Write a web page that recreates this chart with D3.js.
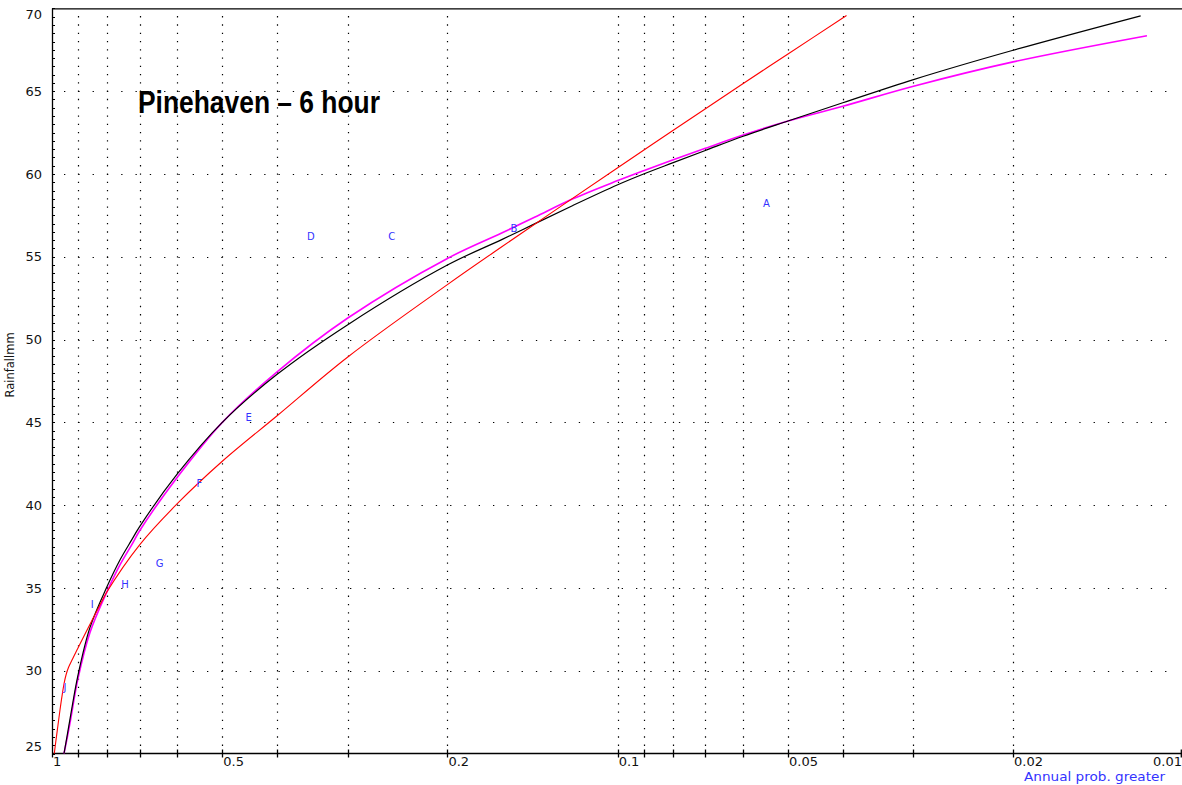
<!DOCTYPE html>
<html>
<head>
<meta charset="utf-8">
<script src="https://cdn.jsdelivr.net/npm/d3@7"></script>
<style>
  html, body { margin: 0; padding: 0; background: #fff; }
  svg { display: block; }
</style>
</head>
<body>
<script>
// ---------- data ----------
const titleText = "Pinehaven \u2013 6 hour";
const yLabel = "Rainfallmm";
const xLabel = "Annual prob. greater";

const xTickProbs = [1, 0.9, 0.8, 0.7, 0.6, 0.5, 0.4, 0.3, 0.2, 0.1, 0.09, 0.08, 0.07, 0.06, 0.05, 0.04, 0.03, 0.02, 0.01];
const xTickLabels = [[1, "1"], [0.5, "0.5"], [0.2, "0.2"], [0.1, "0.1"], [0.05, "0.05"], [0.02, "0.02"], [0.01, "0.01"]];
const yTicks = [25, 30, 35, 40, 45, 50, 55, 60, 65, 70];

// observed annual maxima (plotting letters)
const pointLabels = ["A", "B", "C", "D", "E", "F", "G", "H", "I", "J"];
const pointProbs  = [0.0546, 0.1526, 0.2509, 0.3488, 0.449, 0.5491, 0.6452, 0.7427, 0.8487, 0.9485];
const pointValues = [58.2, 56.7, 56.2, 56.2, 45.3, 41.3, 36.5, 35.2, 34.0, 29.0];

// fitted curves
const blackProbs  = [0.9523, 0.94, 0.927, 0.9, 0.857, 0.8, 0.758, 0.723, 0.7, 0.6, 0.5, 0.4, 0.3, 0.2, 0.16, 0.14, 0.12, 0.1, 0.09, 0.08, 0.07, 0.06, 0.05, 0.04, 0.03, 0.02, 0.0119];
const blackValues = [25.0, 26.1, 27.3, 29.7, 32.6, 35.05, 36.7, 37.9, 38.7, 41.9, 45.0, 47.9, 50.9, 54.5, 56.05, 57.0, 58.1, 59.35, 60.0, 60.67, 61.42, 62.28, 63.2, 64.3, 65.7, 67.47, 69.55];

const magentaProbs  = [0.9523, 0.94, 0.927, 0.9, 0.857, 0.8, 0.758, 0.723, 0.7, 0.6, 0.5, 0.4, 0.3, 0.2, 0.16, 0.14, 0.12, 0.1, 0.09, 0.08, 0.07, 0.06, 0.05, 0.04, 0.03, 0.02, 0.0116];
const magentaValues = [25.0, 25.95, 27.05, 29.5, 32.3, 34.75, 36.4, 37.6, 38.45, 41.7, 45.0, 48.05, 51.3, 54.9, 56.45, 57.4, 58.5, 59.6, 60.2, 60.85, 61.55, 62.35, 63.2, 64.09, 65.3, 66.77, 68.35];

const redProbs  = [0.9907, 0.9839, 0.9759, 0.968, 0.9601, 0.9523, 0.9446, 0.9351, 0.9218, 0.9014, 0.8778, 0.8167, 0.8, 0.7, 0.6, 0.5, 0.4, 0.3, 0.2, 0.161, 0.1, 0.08, 0.06, 0.05, 0.0394];
const redValues = [25.0, 25.81, 26.72, 27.63, 28.47, 29.2, 29.74, 30.19, 30.64, 31.31, 32.1, 34.18, 34.75, 37.6, 40.1, 42.65, 45.4, 48.95, 53.32, 55.56, 60.38, 62.61, 65.46, 67.25, 69.57];

// ---------- drawing ----------
const W = 1182, H = 785;
const svg = d3.select("body").append("svg").attr("width", W).attr("height", H);

const x = d3.scaleLog().domain([1, 0.01]).range([52, 1183.4]);
const y = d3.scaleLinear().domain([25, 70]).range([753.5, 8.4]);

const x0 = x(1), x1 = W, yTop = y(70), yBot = y(25);

// vertical dotted grid
const step = y(69.5) - y(70);
svg.append("g").selectAll("line").data(xTickProbs.filter(p => p !== 1 && p !== 0.01)).join("line")
  .attr("x1", d => Math.round(x(d)) + 0.5).attr("x2", d => Math.round(x(d)) + 0.5)
  .attr("y1", yTop + step - 0.6).attr("y2", yBot - 2)
  .attr("stroke", "#000").attr("stroke-width", 1.2)
  .attr("stroke-dasharray", `1.3 ${step - 1.3}`);

// horizontal dotted grid
svg.append("g").selectAll("line").data(yTicks.filter(v => v !== 25 && v !== 70)).join("line")
  .attr("x1", x0 + 12).attr("x2", x1 - 10)
  .attr("y1", d => Math.round(y(d)) + 0.5).attr("y2", d => Math.round(y(d)) + 0.5)
  .attr("stroke", "#000").attr("stroke-width", 1.2)
  .attr("stroke-dasharray", "1.3 13");

// frame: top border, left axis, bottom axis
svg.append("line").attr("x1", x0).attr("x2", x1).attr("y1", yTop + 0.5).attr("y2", yTop + 0.5)
  .attr("stroke", "#000").attr("stroke-width", 1.3);
svg.append("line").attr("x1", x0 + 0.5).attr("x2", x0 + 0.5).attr("y1", yTop).attr("y2", yBot + 4)
  .attr("stroke", "#000").attr("stroke-width", 1.3);
svg.append("line").attr("x1", x0).attr("x2", x1).attr("y1", yBot).attr("y2", yBot)
  .attr("stroke", "#000").attr("stroke-width", 1.3);

// x ticks
svg.append("g").selectAll("line").data(xTickProbs.filter(p => p !== 1)).join("line")
  .attr("x1", d => Math.min(Math.round(x(d)) + 0.5, W - 0.7)).attr("x2", d => Math.min(Math.round(x(d)) + 0.5, W - 0.7))
  .attr("y1", yBot - 4).attr("y2", yBot + 4)
  .attr("stroke", "#000").attr("stroke-width", 1.3);

// x tick labels
svg.append("g").selectAll("text").data(xTickLabels).join("text")
  .attr("x", d => d[0] === 0.01 ? W : x(d[0]) + 1)
  .attr("y", 766)
  .attr("text-anchor", d => d[0] === 0.01 ? "end" : "start")
  .attr("font-family", "DejaVu Sans, Verdana, sans-serif").attr("font-size", 13)
  .attr("fill", "#111")
  .text(d => d[1]);

// y minor ticks every 0.5
const yMinor = d3.range(25, 70.01, 0.5);
svg.append("g").selectAll("line").data(yMinor).join("line")
  .attr("x1", x0).attr("x2", x0 + 3)
  .attr("y1", d => Math.round(y(d)) + 0.5).attr("y2", d => Math.round(y(d)) + 0.5)
  .attr("stroke", "#000").attr("stroke-width", 1);

// y tick labels
svg.append("g").selectAll("text").data(yTicks).join("text")
  .attr("x", 42)
  .attr("y", d => Math.min(Math.max(y(d), 14), 746))
  .attr("dy", "0.36em")
  .attr("text-anchor", "end")
  .attr("font-family", "DejaVu Sans, Verdana, sans-serif").attr("font-size", 13)
  .attr("fill", "#111")
  .text(d => d);

// y axis title
svg.append("text")
  .attr("transform", `translate(14,365) rotate(-90)`)
  .attr("text-anchor", "middle")
  .attr("font-family", "DejaVu Sans, Verdana, sans-serif").attr("font-size", 11.5)
  .attr("fill", "#111")
  .text(yLabel);

// x axis title
svg.append("text")
  .attr("x", 1024).attr("y", 781)
  .attr("font-family", "DejaVu Sans, Verdana, sans-serif").attr("font-size", 13)
  .attr("textLength", 141).attr("lengthAdjust", "spacingAndGlyphs")
  .attr("fill", "#3333ff")
  .text(xLabel);

// curves
const line = d3.line().x(d => x(d[0])).y(d => y(d[1])).curve(d3.curveCatmullRom.alpha(0.5));
const curves = [
  { probs: magentaProbs, values: magentaValues, color: "#ff00ff", width: 1.6 },
  { probs: blackProbs, values: blackValues, color: "#000000", width: 1.2 },
  { probs: redProbs, values: redValues, color: "#ff0000", width: 1.1 }
];
curves.forEach(c => {
  svg.append("path")
    .datum(c.probs.map((p, i) => [p, c.values[i]]))
    .attr("d", line)
    .attr("fill", "none")
    .attr("stroke", c.color)
    .attr("stroke-width", c.width);
});

// observation letters
svg.append("g").selectAll("text").data(pointLabels).join("text")
  .attr("x", (d, i) => x(pointProbs[i]))
  .attr("y", (d, i) => y(pointValues[i]))
  .attr("dy", "0.36em")
  .attr("text-anchor", "middle")
  .attr("font-family", "DejaVu Sans, Verdana, sans-serif").attr("font-size", 10)
  .attr("fill", "#3333ff")
  .text(d => d);

// title
svg.append("text")
  .attr("x", 138).attr("y", 113)
  .attr("font-family", "'Liberation Sans Narrow', 'Arial Narrow', 'Liberation Sans', Arial, sans-serif")
  .attr("font-weight", "bold").attr("font-size", 31)
  .attr("textLength", 242).attr("lengthAdjust", "spacingAndGlyphs")
  .attr("fill", "#000")
  .text(titleText);
</script>
</body>
</html>
